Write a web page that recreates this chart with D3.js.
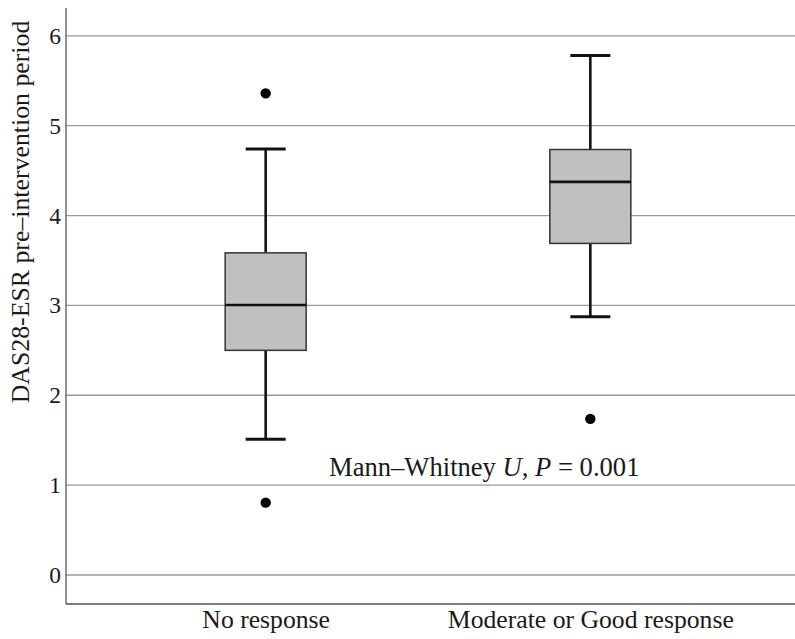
<!DOCTYPE html>
<html><head><meta charset="utf-8">
<script src="https://cdn.jsdelivr.net/npm/d3@7/dist/d3.min.js"></script>
<style>body{margin:0;background:#fff}svg{display:block}</style>
</head><body>
<script>
const categories = ["No response", "Moderate or Good response"];
const lowerWhisker = [1.51, 2.875];
const q1 = [2.50, 3.69];
const median = [3.005, 4.375];
const q3 = [3.585, 4.735];
const upperWhisker = [4.74, 5.78];
const outliers = [[5.36, 0.805], [1.737]];
const yTicks = [0, 1, 2, 3, 4, 5, 6];
const yLabel = "DAS28-ESR pre\u2013intervention period";

const FONT = "Liberation Serif";
const TXT = "#1a1a1a";
const W = 795, H = 639;
const svg = d3.select("body").append("svg").attr("width", W).attr("height", H);
const mLeft = 66, mRight = 795, mTop = 8, mBottom = 604;

const y = d3.scaleLinear().domain([-0.323, 6.31]).range([mBottom, mTop]);
const x = d3.scalePoint().domain(categories).range([mLeft, 790]).padding(0.615);

svg.append("g").selectAll("line").data(yTicks).join("line")
  .attr("x1", mLeft).attr("x2", mRight)
  .attr("y1", d => y(d)).attr("y2", d => y(d))
  .attr("stroke", "#9a9a9a").attr("stroke-width", 1.3);

const yAxis = svg.append("g").attr("transform", `translate(${mLeft},0)`)
  .call(d3.axisLeft(y).tickValues(yTicks).tickSize(0).tickPadding(5).tickFormat(d3.format("d")));
yAxis.select(".domain").remove();
yAxis.attr("font-family", FONT).attr("font-size", 23.5);
yAxis.selectAll("text").attr("fill", TXT);

const xAxis = svg.append("g").attr("transform", `translate(0,${mBottom})`)
  .call(d3.axisBottom(x).tickSize(0).tickPadding(6));
xAxis.select(".domain").remove();
xAxis.attr("font-family", FONT).attr("font-size", 25.7);
xAxis.selectAll("text").attr("fill", TXT);

svg.append("line").attr("x1", mLeft).attr("x2", mLeft).attr("y1", mTop).attr("y2", mBottom)
  .attr("stroke", "#555").attr("stroke-width", 1.3);
svg.append("line").attr("x1", mLeft).attr("x2", mRight).attr("y1", mBottom).attr("y2", mBottom)
  .attr("stroke", "#555").attr("stroke-width", 1.3);

const boxW = 81, capW = 40;
const g = svg.append("g");
categories.forEach((c, i) => {
  const cx = x(c);
  g.append("line").attr("x1", cx).attr("x2", cx).attr("y1", y(upperWhisker[i])).attr("y2", y(q3[i]))
    .attr("stroke", "#111").attr("stroke-width", 2.6);
  g.append("line").attr("x1", cx).attr("x2", cx).attr("y1", y(q1[i])).attr("y2", y(lowerWhisker[i]))
    .attr("stroke", "#111").attr("stroke-width", 2.6);
  [upperWhisker[i], lowerWhisker[i]].forEach(v => {
    g.append("line").attr("x1", cx - capW / 2).attr("x2", cx + capW / 2).attr("y1", y(v)).attr("y2", y(v))
      .attr("stroke", "#111").attr("stroke-width", 3);
  });
  g.append("rect").attr("x", cx - boxW / 2).attr("width", boxW)
    .attr("y", y(q3[i])).attr("height", y(q1[i]) - y(q3[i]))
    .attr("fill", "#c0c0c0").attr("stroke", "#333").attr("stroke-width", 1.5);
  g.append("line").attr("x1", cx - boxW / 2).attr("x2", cx + boxW / 2).attr("y1", y(median[i])).attr("y2", y(median[i]))
    .attr("stroke", "#111").attr("stroke-width", 2.6);
  g.selectAll(null).data(outliers[i]).join("circle")
    .attr("cx", cx).attr("cy", d => y(d)).attr("r", 5.2).attr("fill", "#000");
});

svg.append("text").attr("transform", `translate(20,212) rotate(-90)`)
  .attr("text-anchor", "middle").attr("dominant-baseline", "central")
  .attr("font-family", FONT).attr("font-size", 25.8).attr("fill", TXT).text(yLabel);

const ann = svg.append("text").attr("x", 329).attr("y", 476)
  .attr("font-family", FONT).attr("font-size", 26.6).attr("fill", TXT);
ann.append("tspan").text("Mann\u2013Whitney ");
ann.append("tspan").attr("font-style", "italic").text("U");
ann.append("tspan").text(", ");
ann.append("tspan").attr("font-style", "italic").text("P");
ann.append("tspan").text(" = 0.001");
</script>
</body></html>
